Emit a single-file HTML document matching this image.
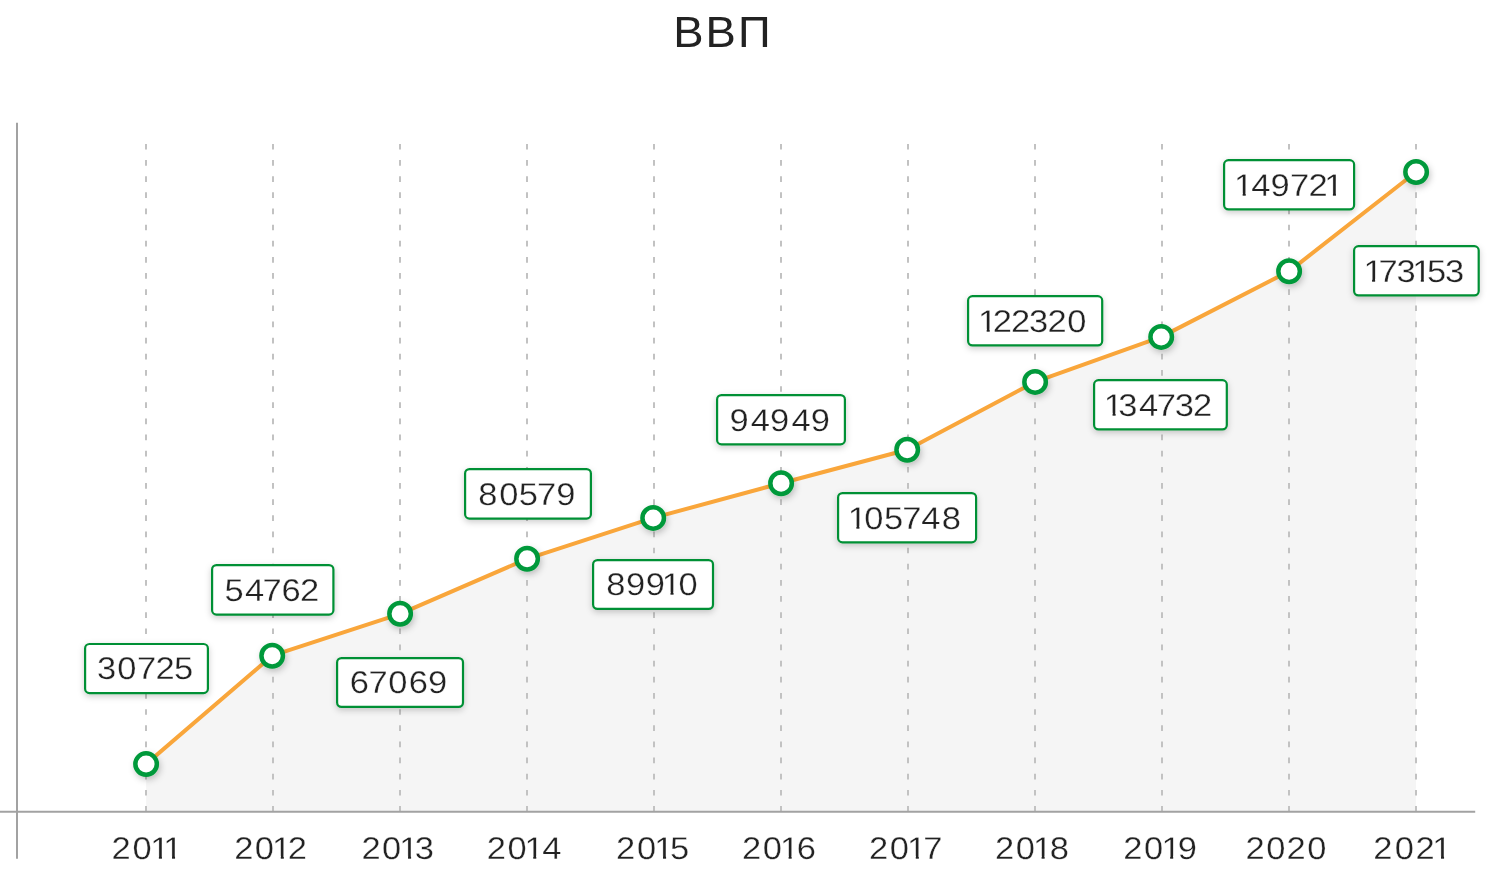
<!DOCTYPE html>
<html lang="ru">
<head>
<meta charset="utf-8">
<title>ВВП</title>
<style>
html,body{margin:0;padding:0;background:#fff;}
body{width:1491px;height:877px;overflow:hidden;}
svg{display:block;}
text{font-family:"Liberation Sans",sans-serif;fill:#222;text-rendering:geometricPrecision;white-space:pre;}
.t{font-size:31.4px;}
.h{font-size:43.7px;}
</style>
</head>
<body>
<svg width="1491" height="877" viewBox="0 0 1491 877">
<defs>
<filter id="sh" x="-20%" y="-30%" width="140%" height="180%"><feDropShadow dx="0" dy="2.4" stdDeviation="3.4" flood-color="#000" flood-opacity="0.2"/></filter>
<filter id="ms" x="-60%" y="-60%" width="220%" height="240%"><feDropShadow dx="1.5" dy="3" stdDeviation="3" flood-color="#000" flood-opacity="0.22"/></filter>
</defs>
<rect width="1491" height="877" fill="#fff"/>
<polygon points="146.1,764.1 272.2,655.7 400.1,613.8 527.1,558.8 653.2,517.9 781.1,483.2 907.2,449.8 1035.1,381.9 1161.2,336.9 1289.1,271.3 1416.1,172.0 1415.9,811.8 146.1,811.8" fill="#f5f5f5"/>
<g stroke="#c2c2c2" stroke-width="2" stroke-dasharray="5.7 10.45">
<line x1="146" y1="143.9" x2="146" y2="811.5"/>
<line x1="273" y1="143.9" x2="273" y2="811.5"/>
<line x1="400" y1="143.9" x2="400" y2="811.5"/>
<line x1="527" y1="143.9" x2="527" y2="811.5"/>
<line x1="654" y1="143.9" x2="654" y2="811.5"/>
<line x1="781" y1="143.9" x2="781" y2="811.5"/>
<line x1="908" y1="143.9" x2="908" y2="811.5"/>
<line x1="1035" y1="143.9" x2="1035" y2="811.5"/>
<line x1="1162" y1="143.9" x2="1162" y2="811.5"/>
<line x1="1289" y1="143.9" x2="1289" y2="811.5"/>
<line x1="1416" y1="143.9" x2="1416" y2="811.5"/>
</g>
<line x1="17" y1="122.8" x2="17" y2="858.7" stroke="#a2a2a2" stroke-width="2"/>
<line x1="0" y1="811.8" x2="1475.2" y2="811.8" stroke="#a2a2a2" stroke-width="2"/>
<polyline points="146.1,764.1 272.2,655.7 400.1,613.8 527.1,558.8 653.2,517.9 781.1,483.2 907.2,449.8 1035.1,381.9 1161.2,336.9 1289.1,271.3 1416.1,172.0" fill="none" stroke="#f9a63b" stroke-width="4" stroke-linejoin="round" stroke-linecap="round"/>
<g fill="#fff" stroke="#00993a" stroke-width="4.5" filter="url(#ms)">
<circle cx="146.1" cy="764.1" r="10.75"/>
<circle cx="272.2" cy="655.7" r="10.75"/>
<circle cx="400.1" cy="613.8" r="10.75"/>
<circle cx="527.1" cy="558.8" r="10.75"/>
<circle cx="653.2" cy="517.9" r="10.75"/>
<circle cx="781.1" cy="483.2" r="10.75"/>
<circle cx="907.2" cy="449.8" r="10.75"/>
<circle cx="1035.1" cy="381.9" r="10.75"/>
<circle cx="1161.2" cy="336.9" r="10.75"/>
<circle cx="1289.1" cy="271.3" r="10.75"/>
<circle cx="1416.1" cy="172.0" r="10.75"/>
</g>
<g filter="url(#sh)">
<rect x="85.1" y="644.0" width="122.8" height="49.1" rx="4.4" fill="#fff" stroke="#009034" stroke-width="2.2"/>
<rect x="212.1" y="565.1" width="121.3" height="49.5" rx="4.4" fill="#fff" stroke="#009034" stroke-width="2.2"/>
<rect x="337.1" y="658.1" width="125.9" height="48.8" rx="4.4" fill="#fff" stroke="#009034" stroke-width="2.2"/>
<rect x="465.1" y="469.1" width="125.8" height="49.5" rx="4.4" fill="#fff" stroke="#009034" stroke-width="2.2"/>
<rect x="593.1" y="560.1" width="119.9" height="48.8" rx="4.4" fill="#fff" stroke="#009034" stroke-width="2.2"/>
<rect x="717.1" y="395.1" width="127.8" height="49.2" rx="4.4" fill="#fff" stroke="#009034" stroke-width="2.2"/>
<rect x="838.1" y="493.1" width="138.0" height="49.2" rx="4.4" fill="#fff" stroke="#009034" stroke-width="2.2"/>
<rect x="968.1" y="296.2" width="134.1" height="49.2" rx="4.4" fill="#fff" stroke="#009034" stroke-width="2.2"/>
<rect x="1094.1" y="380.2" width="132.7" height="49.2" rx="4.4" fill="#fff" stroke="#009034" stroke-width="2.2"/>
<rect x="1224.1" y="160.2" width="130.0" height="49.2" rx="4.4" fill="#fff" stroke="#009034" stroke-width="2.2"/>
<rect x="1354.1" y="246.2" width="124.6" height="49.2" rx="4.4" fill="#fff" stroke="#009034" stroke-width="2.2"/>
</g>
<text class="t" transform="translate(0 679.00) scale(1.1 1)" x="88.18 106.65 124.58 141.46 158.24" y="0" stroke="#fff" stroke-width="0.3">30725</text>
<text class="t" transform="translate(0 601.00) scale(1.1 1)" x="204.21 222.74 238.70 255.97 272.70" y="0" stroke="#fff" stroke-width="0.3">54762</text>
<text class="t" transform="translate(0 693.00) scale(1.1 1)" x="318.05 334.95 352.90 371.71 389.03" y="0" stroke="#fff" stroke-width="0.3">67069</text>
<text class="t" transform="translate(0 505.00) scale(1.1 1)" x="434.69 453.78 471.59 488.14 505.66" y="0" stroke="#fff" stroke-width="0.3">80579</text>
<text class="t" transform="translate(0 595.00) scale(1.1 1)" x="551.23 569.16 587.03 601.65 616.84" y="0" stroke="#fff" stroke-width="0.3">89910</text>
<text class="t" transform="translate(0 431.00) scale(1.1 1)" x="663.16 682.57 700.09 719.50 737.03" y="0" stroke="#fff" stroke-width="0.3">94949</text>
<text class="t" transform="translate(0 529.00) scale(1.1 1)" x="770.62 785.75 803.69 820.26 837.43 856.21" y="0" stroke="#fff" stroke-width="0.3">105748</text>
<text class="t" transform="translate(0 332.00) scale(1.1 1)" x="889.08 902.53 919.17 935.55 952.21 970.33" y="0" stroke="#fff" stroke-width="0.3">122320</text>
<text class="t" transform="translate(0 416.00) scale(1.1 1)" x="1003.53 1016.68 1035.51 1051.61 1067.86 1084.52" y="0" stroke="#fff" stroke-width="0.3">134732</text>
<text class="t" transform="translate(0 196.00) scale(1.1 1)" x="1121.81 1137.43 1155.09 1172.64 1189.66 1203.83" y="0" stroke="#fff" stroke-width="0.3">149721</text>
<text class="t" transform="translate(0 282.00) scale(1.1 1)" x="1239.44 1253.28 1269.64 1283.75 1297.35 1313.54" y="0" stroke="#fff" stroke-width="0.3">173153</text>
<text class="t" transform="translate(0 859.00) scale(1.1 1)" x="101.29 120.48 136.55 148.47" y="0" stroke="#fff" stroke-width="0.3">2011</text>
<text class="t" transform="translate(0 859.00) scale(1.1 1)" x="212.93 231.70 247.35 261.52" y="0" stroke="#fff" stroke-width="0.3">2012</text>
<text class="t" transform="translate(0 859.00) scale(1.1 1)" x="328.56 347.37 363.05 377.00" y="0" stroke="#fff" stroke-width="0.3">2013</text>
<text class="t" transform="translate(0 859.00) scale(1.1 1)" x="442.56 461.27 476.85 492.98" y="0" stroke="#fff" stroke-width="0.3">2014</text>
<text class="t" transform="translate(0 859.00) scale(1.1 1)" x="560.11 579.04 594.85 609.21" y="0" stroke="#fff" stroke-width="0.3">2015</text>
<text class="t" transform="translate(0 859.00) scale(1.1 1)" x="674.47 693.31 709.02 724.27" y="0" stroke="#fff" stroke-width="0.3">2016</text>
<text class="t" transform="translate(0 859.00) scale(1.1 1)" x="790.02 808.88 824.62 839.26" y="0" stroke="#fff" stroke-width="0.3">2017</text>
<text class="t" transform="translate(0 859.00) scale(1.1 1)" x="904.56 923.34 939.00 954.43" y="0" stroke="#fff" stroke-width="0.3">2018</text>
<text class="t" transform="translate(0 859.00) scale(1.1 1)" x="1021.11 1040.05 1055.87 1070.66" y="0" stroke="#fff" stroke-width="0.3">2019</text>
<text class="t" transform="translate(0 859.00) scale(1.1 1)" x="1132.38 1151.16 1169.54 1188.38" y="0" stroke="#fff" stroke-width="0.3">2020</text>
<text class="t" transform="translate(0 859.00) scale(1.1 1)" x="1248.47 1267.88 1286.89 1302.10" y="0" stroke="#fff" stroke-width="0.3">2021</text>
<text class="h" transform="translate(0 47.00) scale(1.04 1)" x="647.35 678.49 709.58" y="0">ВВП</text>
<g fill="#fff">
<path d="M670.50 595.78 L663.00 595.78 L663.00 594.58 L663.00 594.58 L663.00 593.77 L663.00 593.77 L663.00 592.97 L663.00 592.97 L663.00 591.86 L670.50 591.86Z"/>
<path d="M673.55 595.78 L680.52 595.78 L680.52 594.58 L680.52 594.58 L680.52 593.77 L680.52 593.77 L680.52 592.97 L680.52 592.97 L680.52 591.86 L673.55 591.86Z"/>
<path d="M856.37 529.78 L848.88 529.78 L848.88 528.58 L848.88 528.58 L848.88 527.77 L848.88 527.77 L848.88 526.97 L848.88 526.97 L848.88 525.86 L856.37 525.86Z"/>
<path d="M859.43 529.78 L866.40 529.78 L866.40 528.58 L866.40 528.58 L866.40 527.77 L866.40 527.77 L866.40 526.97 L866.40 526.97 L866.40 525.86 L859.43 525.86Z"/>
<path d="M986.67 332.78 L979.18 332.78 L979.18 331.58 L979.18 331.58 L979.18 330.77 L979.18 330.77 L979.18 329.97 L979.18 329.97 L979.18 328.86 L986.67 328.86Z"/>
<path d="M989.73 332.78 L994.54 332.78 L994.54 331.58 L994.54 331.58 L994.54 330.77 L994.54 330.77 L994.54 329.97 L994.57 329.97 L994.57 328.86 L989.73 328.86Z"/>
<path d="M1112.57 416.78 L1105.08 416.78 L1105.08 415.58 L1105.08 415.58 L1105.08 414.77 L1105.08 414.77 L1105.08 413.97 L1105.08 413.97 L1105.08 412.86 L1112.57 412.86Z"/>
<path d="M1115.62 416.78 L1122.60 416.78 L1122.60 415.58 L1122.16 415.58 L1122.16 414.77 L1121.25 414.77 L1121.25 413.97 L1120.65 413.97 L1120.65 412.86 L1115.62 412.86Z"/>
<path d="M1242.67 196.78 L1235.18 196.78 L1235.18 195.58 L1235.18 195.58 L1235.18 194.77 L1235.18 194.77 L1235.18 193.97 L1235.18 193.97 L1235.18 192.86 L1242.67 192.86Z"/>
<path d="M1245.73 196.78 L1252.70 196.78 L1252.70 195.58 L1252.70 195.58 L1252.70 194.77 L1252.70 194.77 L1252.70 193.97 L1252.70 193.97 L1252.70 192.86 L1245.73 192.86Z"/>
<path d="M1332.90 196.78 L1326.06 196.78 L1326.06 195.58 L1326.06 195.58 L1326.06 194.77 L1326.06 194.77 L1326.06 193.97 L1326.06 193.97 L1326.06 192.86 L1332.90 192.86Z"/>
<path d="M1335.95 196.78 L1342.92 196.78 L1342.92 195.58 L1342.92 195.58 L1342.92 194.77 L1342.92 194.77 L1342.92 193.97 L1342.92 193.97 L1342.92 192.86 L1335.95 192.86Z"/>
<path d="M1372.07 282.78 L1364.58 282.78 L1364.58 281.58 L1364.58 281.58 L1364.58 280.77 L1364.58 280.77 L1364.58 279.97 L1364.58 279.97 L1364.58 278.86 L1372.07 278.86Z"/>
<path d="M1375.12 282.78 L1382.10 282.78 L1382.10 281.58 L1382.10 281.58 L1382.10 280.77 L1382.10 280.77 L1382.10 279.97 L1382.10 279.97 L1382.10 278.86 L1375.12 278.86Z"/>
<path d="M1420.81 282.78 L1413.31 282.78 L1413.31 281.58 L1413.31 281.58 L1413.31 280.77 L1413.31 280.77 L1413.31 279.97 L1413.46 279.97 L1413.46 278.86 L1420.81 278.86Z"/>
<path d="M1423.86 282.78 L1430.83 282.78 L1430.83 281.58 L1430.76 281.58 L1430.76 280.77 L1429.88 280.77 L1429.88 279.97 L1429.28 279.97 L1429.28 278.86 L1423.86 278.86Z"/>
<path d="M158.89 859.78 L151.40 859.78 L151.40 858.58 L151.40 858.58 L151.40 857.77 L151.40 857.77 L151.40 856.97 L151.40 856.97 L151.40 855.86 L158.89 855.86Z"/>
<path d="M161.94 859.78 L168.91 859.78 L168.91 858.58 L168.91 858.58 L168.91 857.77 L168.91 857.77 L168.91 856.97 L168.91 856.97 L168.91 855.86 L161.94 855.86Z"/>
<path d="M172.00 859.78 L164.50 859.78 L164.50 858.58 L164.50 858.58 L164.50 857.77 L164.50 857.77 L164.50 856.97 L164.50 856.97 L164.50 855.86 L172.00 855.86Z"/>
<path d="M175.05 859.78 L182.02 859.78 L182.02 858.58 L182.02 858.58 L182.02 857.77 L182.02 857.77 L182.02 856.97 L182.02 856.97 L182.02 855.86 L175.05 855.86Z"/>
<path d="M280.77 859.78 L273.28 859.78 L273.28 858.58 L273.28 858.58 L273.28 857.77 L273.28 857.77 L273.28 856.97 L273.28 856.97 L273.28 855.86 L280.77 855.86Z"/>
<path d="M283.82 859.78 L289.42 859.78 L289.42 858.58 L289.42 858.58 L289.42 857.77 L289.42 857.77 L289.42 856.97 L289.46 856.97 L289.46 855.86 L283.82 855.86Z"/>
<path d="M408.04 859.78 L400.55 859.78 L400.55 858.58 L400.55 858.58 L400.55 857.77 L400.55 857.77 L400.55 856.97 L400.55 856.97 L400.55 855.86 L408.04 855.86Z"/>
<path d="M411.09 859.78 L418.06 859.78 L418.06 858.58 L418.06 858.58 L418.06 857.77 L417.60 857.77 L417.60 856.97 L416.99 856.97 L416.99 855.86 L411.09 855.86Z"/>
<path d="M533.22 859.78 L525.73 859.78 L525.73 858.58 L525.73 858.58 L525.73 857.77 L525.73 857.77 L525.73 856.97 L525.73 856.97 L525.73 855.86 L533.22 855.86Z"/>
<path d="M536.27 859.78 L543.25 859.78 L543.25 858.58 L543.25 858.58 L543.25 857.77 L543.25 857.77 L543.25 856.97 L543.25 856.97 L543.25 855.86 L536.27 855.86Z"/>
<path d="M663.02 859.78 L655.53 859.78 L655.53 858.58 L655.53 858.58 L655.53 857.77 L655.53 857.77 L655.53 856.97 L655.53 856.97 L655.53 855.86 L663.02 855.86Z"/>
<path d="M666.08 859.78 L673.05 859.78 L673.05 858.58 L673.05 858.58 L673.05 857.77 L672.93 857.77 L672.93 856.97 L672.32 856.97 L672.32 855.86 L666.08 855.86Z"/>
<path d="M788.61 859.78 L781.11 859.78 L781.11 858.58 L781.11 858.58 L781.11 857.77 L781.11 857.77 L781.11 856.97 L781.11 856.97 L781.11 855.86 L788.61 855.86Z"/>
<path d="M791.66 859.78 L798.63 859.78 L798.63 858.58 L798.63 858.58 L798.63 857.77 L798.63 857.77 L798.63 856.97 L798.63 856.97 L798.63 855.86 L791.66 855.86Z"/>
<path d="M915.77 859.78 L908.28 859.78 L908.28 858.58 L908.28 858.58 L908.28 857.77 L908.28 857.77 L908.28 856.97 L908.28 856.97 L908.28 855.86 L915.77 855.86Z"/>
<path d="M918.83 859.78 L925.80 859.78 L925.80 858.58 L925.80 858.58 L925.80 857.77 L925.80 857.77 L925.80 856.97 L925.80 856.97 L925.80 855.86 L918.83 855.86Z"/>
<path d="M1041.59 859.78 L1034.10 859.78 L1034.10 858.58 L1034.10 858.58 L1034.10 857.77 L1034.10 857.77 L1034.10 856.97 L1034.10 856.97 L1034.10 855.86 L1041.59 855.86Z"/>
<path d="M1044.64 859.78 L1051.61 859.78 L1051.61 858.58 L1051.61 858.58 L1051.61 857.77 L1051.61 857.77 L1051.61 856.97 L1051.61 856.97 L1051.61 855.86 L1044.64 855.86Z"/>
<path d="M1170.14 859.78 L1162.65 859.78 L1162.65 858.58 L1162.65 858.58 L1162.65 857.77 L1162.65 857.77 L1162.65 856.97 L1162.65 856.97 L1162.65 855.86 L1170.14 855.86Z"/>
<path d="M1173.19 859.78 L1180.16 859.78 L1180.16 858.58 L1180.16 858.58 L1180.16 857.77 L1180.16 857.77 L1180.16 856.97 L1180.16 856.97 L1180.16 855.86 L1173.19 855.86Z"/>
<path d="M1441.00 859.78 L1433.50 859.78 L1433.50 858.58 L1433.50 858.58 L1433.50 857.77 L1433.50 857.77 L1433.50 856.97 L1433.50 856.97 L1433.50 855.86 L1441.00 855.86Z"/>
<path d="M1444.05 859.78 L1451.02 859.78 L1451.02 858.58 L1451.02 858.58 L1451.02 857.77 L1451.02 857.77 L1451.02 856.97 L1451.02 856.97 L1451.02 855.86 L1444.05 855.86Z"/>
</g>
</svg>
</body>
</html>
